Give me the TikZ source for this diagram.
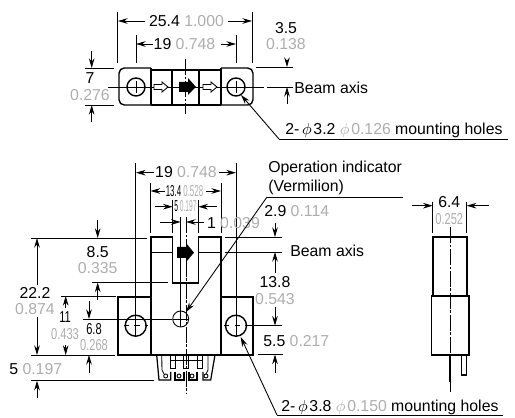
\documentclass[tikz,border=0pt]{standalone}
\usepackage{fontspec}
\setmainfont{Liberation Sans}
\usetikzlibrary{arrows.meta}
\definecolor{inchgray}{gray}{0.68}
\newcommand{\inch}[1]{\textcolor{inchgray}{#1}}
\newcommand{\slim}[2][0.7]{\scalebox{#1}[1]{#2}}
\tikzset{
	lab/.style={inner sep=0pt,text height=6pt,text depth=0pt,font=\fontsize{9}{10}\selectfont},
	body/.style={line width=0.8pt},
	dim/.style={line width=0.5pt},
	lead/.style={line width=0.7pt},
	dimarrow/.style={line width=0.5pt,-{Stealth[length=5.5pt,width=3.2pt]}},
	axis/.style={line width=0.5pt,dash pattern=on 9pt off 1pt on 1.5pt off 1pt}
}
\begin{document}
\begin{tikzpicture}[x=0.02cm,y=-0.02cm]
	\useasboundingbox (0,0) rectangle (515,418);
	
	%top view
	\draw[body,rounded corners=3pt] (151,68)--(119,68)--(119,105)--(151,105);
	\draw[body,rounded corners=3pt] (221,68)--(253,68)--(253,105)--(221,105);
	\draw[body] (151,68)--(151,105) (221,68)--(221,105);
	\draw[body] (151,70)--(221,70) (151,105)--(172,105) (199,105)--(221,105);
	\draw[body] (172,70)--(172,105) (199,70)--(199,105);
	\draw[line width=1.2pt] (172,105)--(199,105);
	\foreach \x in {136,236}
	{\draw[body] (\x,87) circle (9);
	\draw[dim] (\x,81)--(\x,93) (\x-4,87)--(\x+4,87);}
	\draw[dim] (108,87)--(264,87);
	\draw[axis] (185.7,59)--(185.7,114);
	%arrows on top view
	\fill (179,82)--(188,82)--(188,78)--(196,87)--(188,95)--(188,92)--(179,92)--cycle;
	\foreach \x in {154,203}
	{\draw[dim,fill=white] (\x,84.5)--(\x+8,84.5)--(\x+8,82)--(\x+14,87)--(\x+8,92)--(\x+8,89.5)--(\x,89.5)--cycle;}
	
	%top view dimensions
	\draw[dim] (117.5,12)--(117.5,63) (252.5,12)--(252.5,63);
	\draw[dimarrow] (145,21)--(118,21);
	\draw[dimarrow] (228,21)--(252,21);
	\node[lab] (d254) at (186.5,21) {25.4 \inch{1.000}};
	\draw[dim] (136,35)--(136,63) (236,35)--(236,63);
	\draw[dimarrow] (153,44)--(136,44);
	\draw[dimarrow] (221,44)--(236,44);
	\node[lab] (d19) at (184.5,44) {19 \inch{0.748}};
	\draw[dim] (85,68)--(114,68) (85,105)--(114,105);
	\draw[dimarrow] (91.7,51)--(91.7,68);
	\draw[dimarrow] (91.7,122)--(91.7,105);
	\node[lab] (d7) at (90,78) {7};
	\node[lab] (d7in) at (90,95) {\inch{0.276}};
	\draw[dim] (256,67)--(293,67);
	\draw[dimarrow] (287,60)--(287,67);
	\draw[dim] (267,87)--(293,87);
	\draw[dimarrow] (287,104)--(287,87);
	\node[lab] (d35) at (286,28) {3.5};
	\node[lab] (d35in) at (286,44) {\inch{0.138}};
	\node[lab,anchor=west] (beamtop) at (294,88) {Beam axis};
	\draw[dimarrow] (279,139)--(241,95);
	\draw[dim] (279,139)--(508,139);
	\node[lab,anchor=west] (holestop) at (285,129) {2-\hspace{1.5pt}$\phi$\hspace{1pt}3.2 \inch{$\phi$\hspace{1pt}0.126} mounting holes};
	
	%front view
	\draw[body] (151,297)--(118,297)--(118,355)--(253,355)--(253,297)--(221,297);
	\draw[body] (151,355)--(151,237)--(172.7,237)--(172.7,283)--(198.3,283)--(198.3,237)--(221,237)--(221,355);
	\draw[dim] (151,252.7)--(172.7,252.7) (198.3,252.7)--(221,252.7);
	\fill (177,247)--(186,247)--(186,243)--(194,252.7)--(186,262)--(186,258)--(177,258)--cycle;
	\foreach \x in {135.7,236}
	{\draw[body] (\x,325.7) circle (10.5);
	\draw[dim] (\x,163)--(\x,337);
	\draw[dim,dashed] (\x-12,325.7)--(\x+12,325.7);}
	\draw[dim] (248,325.7)--(281.7,325.7);
	\draw[dim] (180.7,217)--(180.7,327);
	\draw[dim] (83,319)--(172,319);
	\draw[dim] (173,319)--(189,319);
	\draw[dim] (180.7,319) circle (8);
	\draw[axis] (186,217)--(186,393);
	
	%leads
	\draw[lead] (156.7,355)--(159,380)--(170.7,380)--(170.7,372);
	\draw[dim] (161.7,355)--(162,370)--(164,374);
	\draw[lead] (175,372)--(175,380)--(184,380)--(184,372);
	\draw[lead] (189,372)--(189,380)--(197,380)--(197,372);
	\draw[lead] (215,355)--(210.7,380)--(203,380)--(203,372);
	\draw[dim] (208,355)--(208,370)--(206,374);
	\foreach \x in {170,183,197}
	{\draw[dim] (\x,355)--(\x,368)--(\x+5.5,368)--(\x+5.5,355);}
	\draw[dim] (170,360)--(203,360);
	\foreach \x in {165.7,179,192,206}
	{\draw[dim] (\x,376) circle (2);}
	
	%front view dimensions above
	\draw[dimarrow] (154,172.7)--(136,172.7);
	\draw[dimarrow] (219,172.7)--(236,172.7);
	\node[lab] (f19) at (186,172.7) {19 \inch{0.748}};
	\draw[dim] (150,183)--(150,233) (221,183)--(221,233);
	\draw[dimarrow] (165,191)--(150.5,191);
	\draw[dimarrow] (206,191)--(221,191);
	\node[lab] (f134) at (184.5,191) {\slim[0.5]{13.4 \inch{0.528}}};
	\draw[dim] (172.7,200)--(172.7,233) (198.3,200)--(198.3,233);
	\draw[dimarrow] (155,206.7)--(172.7,206.7);
	\draw[dimarrow] (216.7,206.7)--(198.3,206.7);
	\node[lab] (f5) at (185.5,206.7) {\slim[0.42]{5 \inch{0.197}}};
	\draw[dimarrow] (160,222)--(180.7,222);
	\draw[dimarrow] (204,222)--(186,222);
	\node[lab,anchor=west] (f1) at (206.7,223) {1 \inch{0.039}};
	
	%front view dimensions left
	\draw[dim] (31,238)--(147,238);
	\draw[dimarrow] (37,285)--(37,238);
	\draw[dimarrow] (37,317)--(37,355);
	\node[lab] (f222) at (35,293) {22.2};
	\node[lab] (f222in) at (35,309) {\inch{0.874}};
	\draw[dimarrow] (97.7,220)--(97.7,238);
	\node[lab] (f85) at (97.7,252.7) {8.5};
	\node[lab] (f85in) at (97.7,268) {\inch{0.335}};
	\draw[dim] (92,282.5)--(168,282.5);
	\draw[dimarrow] (97.7,300)--(97.7,282.5);
	\draw[dim] (61,296)--(116,296);
	\draw[dimarrow] (65.7,308)--(65.7,296);
	\draw[dimarrow] (65.7,345)--(65.7,355);
	\node[lab] (f11) at (65,317) {\slim{11}};
	\node[lab] (f11in) at (65,334) {\slim{\inch{0.433}}};
	\draw[dimarrow] (89,300.7)--(89,319);
	\draw[dimarrow] (89,372.7)--(89,355);
	\node[lab] (f68) at (94,329) {\slim{6.8}};
	\node[lab] (f68in) at (94,345) {\slim{\inch{0.268}}};
	\draw[dim] (31,355)--(115,355);
	\draw[dim] (31,380.7)--(154,380.7);
	\draw[dimarrow] (37,398)--(37,380.7);
	\node[lab,anchor=west] (f50) at (9,369) {5 \inch{0.197}};
	
	%front view dimensions right
	\draw[dim] (225,237)--(281.7,237) (225,252)--(281.7,252);
	\draw[dimarrow] (275,223)--(275,237);
	\draw[dimarrow] (275,272.7)--(275,252);
	\node[lab,anchor=west] (f29) at (264,211.7) {2.9 \inch{0.114}};
	\node[lab,anchor=west] (beamfront) at (290,251.7) {Beam axis};
	\node[lab] (f138) at (275,282.7) {13.8};
	\node[lab] (f138in) at (275,299) {\inch{0.543}};
	\draw[dimarrow] (275,307)--(275,325.7);
	\draw[dim] (258,354.5)--(283,354.5);
	\draw[dimarrow] (275,373)--(275,354.5);
	\node[lab,anchor=west] (f55) at (263,341.7) {5.5 \inch{0.217}};
	
	%leaders
	\draw[dimarrow] (267,197)--(186,312);
	\draw[dim] (267,197)--(403,197);
	\node[lab,anchor=west] (opind) at (268,167) {Operation indicator};
	\node[lab,anchor=west] (vermilion) at (268,186) {(Vermilion)};
	\draw[dimarrow] (277,415)--(240.7,337);
	\draw[dim] (277,415)--(503,415);
	\node[lab,anchor=west] (holesfront) at (281,406) {2-\hspace{1.5pt}$\phi$\hspace{1pt}3.8 \inch{$\phi$\hspace{1pt}0.150} mounting holes};
	
	%side view
	\draw[body] (433,296)--(433,237)--(467,237)--(467,296);
	\draw[body] (431.7,296) rectangle (469,355);
	\draw[axis] (450,227)--(450,392);
	\draw[line width=1.6pt] (450,355)--(450,381.7);
	\draw[lead] (461.7,355)--(461.7,375)--(466.7,375)--(466.7,355);
	\draw[dim] (432.7,201.7)--(432.7,232.7) (466.7,201.7)--(466.7,232.7);
	\draw[dimarrow] (411.7,205.7)--(432.7,205.7);
	\draw[dimarrow] (489,205.7)--(466.7,205.7);
	\node[lab] (s64) at (449.3,202.3) {6.4};
	\node[lab] (s64in) at (449.3,219) {\slim{\inch{0.252}}};
\end{tikzpicture}
\end{document}
